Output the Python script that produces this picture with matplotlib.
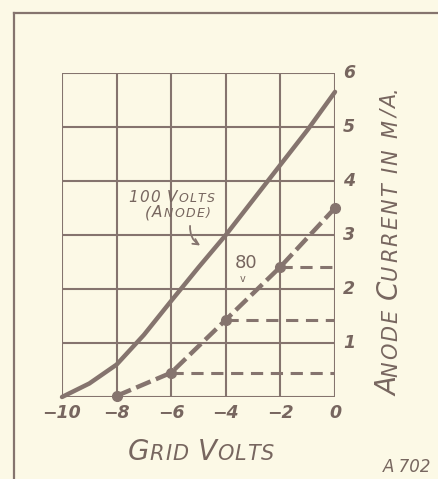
import matplotlib
matplotlib.use("Agg")
import matplotlib.pyplot as plt
from matplotlib.transforms import IdentityTransform

# Curve data
grid_volts = [-10, -9, -8, -7, -6, -5, -4, -3, -2, -1, 0]
current_100v = [0.0, 0.25, 0.6, 1.15, 1.78, 2.4, 3.0, 3.65, 4.3, 4.95, 5.65]
grid_80v = [-8, -6, -4, -2, 0]
current_80v = [0.02, 0.45, 1.43, 2.41, 3.5]
x_ticks = [-10, -8, -6, -4, -2, 0]
x_labels = ["\u221210", "\u22128", "\u22126", "\u22124", "\u22122", "0"]
y_ticks = [1, 2, 3, 4, 5, 6]

INK = "#85746e"
TEXT = "#77665f"
PAPER = "#fcf9e6"
W, H = 439, 479

fig = plt.figure(figsize=(W / 100, H / 100), dpi=100, facecolor=PAPER)
ax = fig.add_axes([62 / W, 1 - 397 / H, 273 / W, 324 / H])
ax.set_facecolor(PAPER)
ax.set_xlim(-10, 0)
ax.set_ylim(0, 6)

for v in x_ticks:
    ax.axvline(v, color=INK, lw=1.5, zorder=1)
for c in range(0, 7):
    ax.axhline(c, color=INK, lw=1.5, zorder=1)
for s in ax.spines.values():
    s.set_visible(False)
ax.set_xticks([])
ax.set_yticks([])

# 100 volt curve
ax.plot(grid_volts, current_100v, color=INK, lw=3.2, solid_capstyle="round",
        solid_joinstyle="round", clip_on=False, zorder=3)
# 80 volt curve with its points
ax.plot(grid_80v, current_80v, color=INK, lw=3.2, ls=(0, (3.5, 1.3)),
        clip_on=False, zorder=3)
ax.plot(grid_80v, current_80v, "o", color=INK, ms=7, clip_on=False, zorder=4)
# projection lines to the current axis
for gv, cur in zip(grid_80v[1:4], current_80v[1:4]):
    ax.plot([gv, 0], [cur, cur], color=INK, lw=2.2, ls=(0, (4, 2.5)), zorder=2)

ink_txt = dict(color=TEXT, style="italic", fontweight="bold")
for v, lab in zip(x_ticks, x_labels):
    fig.text((62 + (v + 10) * 27.3) / W, 1 - 413 / H, lab, ha="center",
             va="center", fontsize=12.5, **ink_txt)
for c in y_ticks:
    fig.text(349 / W, 1 - (397 - c * 54) / H, str(c), ha="center",
             va="center", fontsize=12.5, **ink_txt)

renderer = fig.canvas.get_renderer()


def small_caps(x, y, parts, rotation=0, **kw):
    # parts: list of (text, fontsize, extra px after each char); x, y from top-left
    px, py = x, H - y
    for s, size, track in parts:
        for ch in s:
            t = fig.text(px, py, ch, transform=IdentityTransform(), fontsize=size,
                         ha="left", va="baseline", **kw)
            w = t.get_window_extent(renderer).width
            if ch == " ":
                w = size * 0.45
            w += track
            if rotation:
                t.set_rotation(rotation)
                t.set_rotation_mode("anchor")
                py += w
            else:
                px += w


lab_kw = dict(color=TEXT, style="italic")
small_caps(128, 460, [("G", 20, 0), ("RID ", 15, 1.2), ("V", 20, 0),
                      ("OLTS", 15, 1.2)], **lab_kw)
small_caps(397, 396, [("A", 20, 0), ("NODE ", 15, 2), ("C", 20, 0),
                      ("URRENT ", 15, 2), ("IN ", 15, 2), ("M/A.", 15, 2)],
           rotation=90, **lab_kw)
small_caps(128, 202, [("100 V", 11, 1.2), ("OLTS", 9, 1.2)], **lab_kw)
small_caps(145, 217, [("(A", 11, 1.2), ("NODE)", 9, 1.2)], **lab_kw)
fig.text(246 / W, 1 - 263 / H, "80", ha="center", va="center", fontsize=13,
         color=TEXT)
fig.text(243 / W, 1 - 279 / H, "v", ha="center", va="center", fontsize=7,
         color=TEXT)
ax.annotate("", xy=(-4.85, 2.78), xytext=(-5.3, 3.22),
            arrowprops=dict(arrowstyle="->", color=INK, lw=1.3,
                            connectionstyle="arc3,rad=0.35"))
fig.text(383 / W, 1 - 472 / H, "A 702", ha="left", va="baseline", fontsize=12,
         color=TEXT, style="italic")

# frame of the printed figure
fig.add_artist(plt.Line2D([14 / W, 1], [1 - 13 / H, 1 - 13 / H], color=INK, lw=1.6))
fig.add_artist(plt.Line2D([14 / W, 14 / W], [0, 1 - 13 / H], color=INK, lw=1.6))

fig.savefig("out.png", dpi=100, facecolor=PAPER)
